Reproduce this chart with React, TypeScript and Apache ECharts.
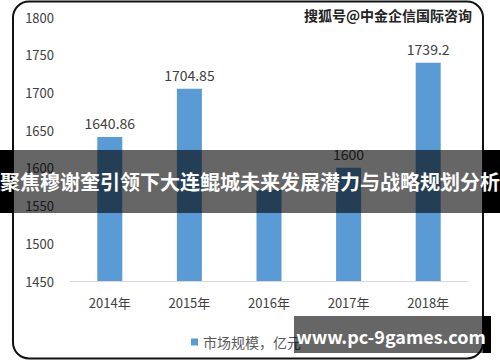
import React, { useEffect, useRef } from "react";
import * as echarts from "echarts";

const categories = ["2014年", "2015年", "2016年", "2017年", "2018年"];
const marketSize = [1640.86, 1704.85, 1570.5, 1600, 1739.2];
const hiddenLabelIndex = 2; // covered by the banner in the reference
const seriesName = "市场规模，亿元";
const yMin = 1450;
const yMax = 1800;
const yInterval = 50;
const bannerText = "聚焦穆谢奎引领下大连鲲城未来发展潜力与战略规划分析";
const topMark = "搜狐号@中金企信国际咨询";
const bottomMark = "www.pc-9games.com";

const FONT = "'Noto Sans CJK SC', 'Noto Sans', sans-serif";

export default function App() {
  const ref = useRef<HTMLDivElement>(null);
  useEffect(() => {
    if (!ref.current) return;
    const chart = echarts.init(ref.current, null, { renderer: "svg" });
    chart.setOption({
      animation: false,
      backgroundColor: "#ffffff",
      textStyle: { fontFamily: FONT },
      grid: { left: 70, right: 32, top: 17, bottom: 81, containLabel: false },
      xAxis: {
        type: "category",
        data: categories,
        axisLine: { show: true, lineStyle: { color: "#d9d9d9", width: 1 } },
        axisTick: { show: false },
        axisLabel: { color: "#404040", fontSize: 13, margin: 15, fontFamily: FONT },
      },
      yAxis: {
        type: "value",
        min: yMin,
        max: yMax,
        interval: yInterval,
        axisLine: { show: false },
        axisTick: { show: false },
        splitLine: { show: false },
        axisLabel: {
          color: "#404040",
          fontSize: 13,
          margin: 16,
          fontFamily: FONT,
          formatter: (v: number) => String(v),
        },
      },
      legend: {
        data: [seriesName],
        left: 186,
        top: 330,
        icon: "rect",
        itemWidth: 7,
        itemHeight: 7,
        itemGap: 4,
        textStyle: { color: "#595959", fontSize: 14, fontFamily: FONT },
      },
      series: [
        {
          name: seriesName,
          type: "bar",
          data: marketSize.map((v, i) =>
            i === hiddenLabelIndex ? { value: v, label: { show: false } } : v
          ),
          barWidth: 25,
          itemStyle: { color: "#5b9bd5" },
          label: {
            show: true,
            position: "top",
            distance: 7,
            color: "#404040",
            fontSize: 14,
            fontFamily: FONT,
          },
        },
      ],
      graphic: [
        {
          type: "rect",
          z: 90,
          shape: { x: 13, y: 1.5, width: 470, height: 357, r: 16 },
          style: { fill: "none", stroke: "#111", lineWidth: 2 },
        },
        {
          type: "text",
          z: 95,
          x: 472,
          y: 15,
          style: {
            text: topMark,
            fill: "#222",
            stroke: "#ffffff",
            lineWidth: 1,
            fontSize: 14,
            fontWeight: "bold",
            fontFamily: FONT,
            align: "right",
            verticalAlign: "middle",
          },
        },
        {
          type: "rect",
          z: 100,
          shape: { x: 0, y: 150, width: 13, height: 63 },
          style: { fill: "#000" },
        },
        {
          type: "rect",
          z: 100,
          shape: { x: 483, y: 150, width: 17, height: 63 },
          style: { fill: "#000" },
        },
        {
          type: "rect",
          z: 100,
          shape: { x: 13, y: 150, width: 470, height: 63 },
          style: { fill: "rgba(0,0,0,0.6)" },
        },
        {
          type: "text",
          z: 101,
          x: 250,
          y: 181,
          style: {
            text: bannerText,
            fill: "#ffffff",
            fontSize: 20,
            fontWeight: "bold",
            fontFamily: FONT,
            align: "center",
            verticalAlign: "middle",
          },
        },
        {
          type: "rect",
          z: 100,
          shape: { x: 294, y: 316, width: 189, height: 37 },
          style: { fill: "rgba(0,0,0,0.6)" },
        },
        {
          type: "rect",
          z: 100,
          shape: { x: 483, y: 316, width: 8, height: 37 },
          style: { fill: "#000" },
        },
        {
          type: "text",
          z: 101,
          x: 391,
          y: 336,
          style: {
            text: bottomMark,
            fill: "#ffffff",
            fontSize: 18,
            fontWeight: "bold",
            fontFamily: FONT,
            align: "center",
            verticalAlign: "middle",
          },
        },
      ],
    });
    return () => chart.dispose();
  }, []);
  return (
    <div
      ref={ref}
      style={{ position: "fixed", left: 0, top: 0, width: 500, height: 362 }}
    />
  );
}
